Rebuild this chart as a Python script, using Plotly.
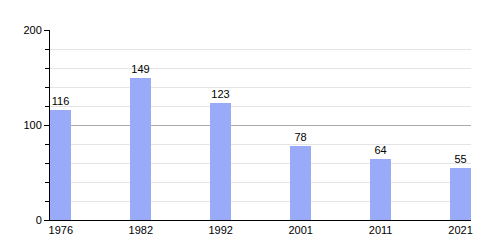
import plotly.graph_objects as go

years = ["1976", "1982", "1992", "2001", "2011", "2021"]
population = [116, 149, 123, 78, 64, 55]

positions = list(range(len(years)))

fig = go.Figure()
fig.add_trace(go.Bar(
    x=positions,
    y=population,
    width=0.26,
    marker=dict(color="#99aaf9", line=dict(width=0)),
    text=[str(v) for v in population],
    textposition="outside",
    textfont=dict(family="Liberation Sans, Arial, sans-serif", size=11, color="#000000"),
    cliponaxis=False,
    hoverinfo="skip",
))

fig.update_layout(
    width=500,
    height=250,
    margin=dict(l=50, r=29, t=30, b=30),
    paper_bgcolor="white",
    plot_bgcolor="white",
    showlegend=False,
    font=dict(family="Liberation Sans, Arial, sans-serif", size=11, color="#000000"),
    bargap=0,
)

fig.update_xaxes(
    range=[-0.135, 5.13],
    tickmode="array",
    tickvals=positions,
    ticktext=years,
    showgrid=False,
    showline=True,
    linecolor="#000000",
    linewidth=1,
    ticks="",
    zeroline=False,
    tickfont=dict(size=11),
)

fig.update_yaxes(
    range=[0, 200],
    tickmode="linear",
    tick0=0,
    dtick=100,
    showgrid=True,
    gridcolor="#aaaaaa",
    gridwidth=1,
    showline=True,
    linecolor="#000000",
    linewidth=1,
    ticks="outside",
    ticklen=5,
    tickcolor="#000000",
    zeroline=False,
    tickfont=dict(size=11),
    minor=dict(dtick=20, showgrid=True, gridcolor="#e4e4e4", ticks="outside", ticklen=4, tickcolor="#000000"),
)

fig.write_html("out.html")
